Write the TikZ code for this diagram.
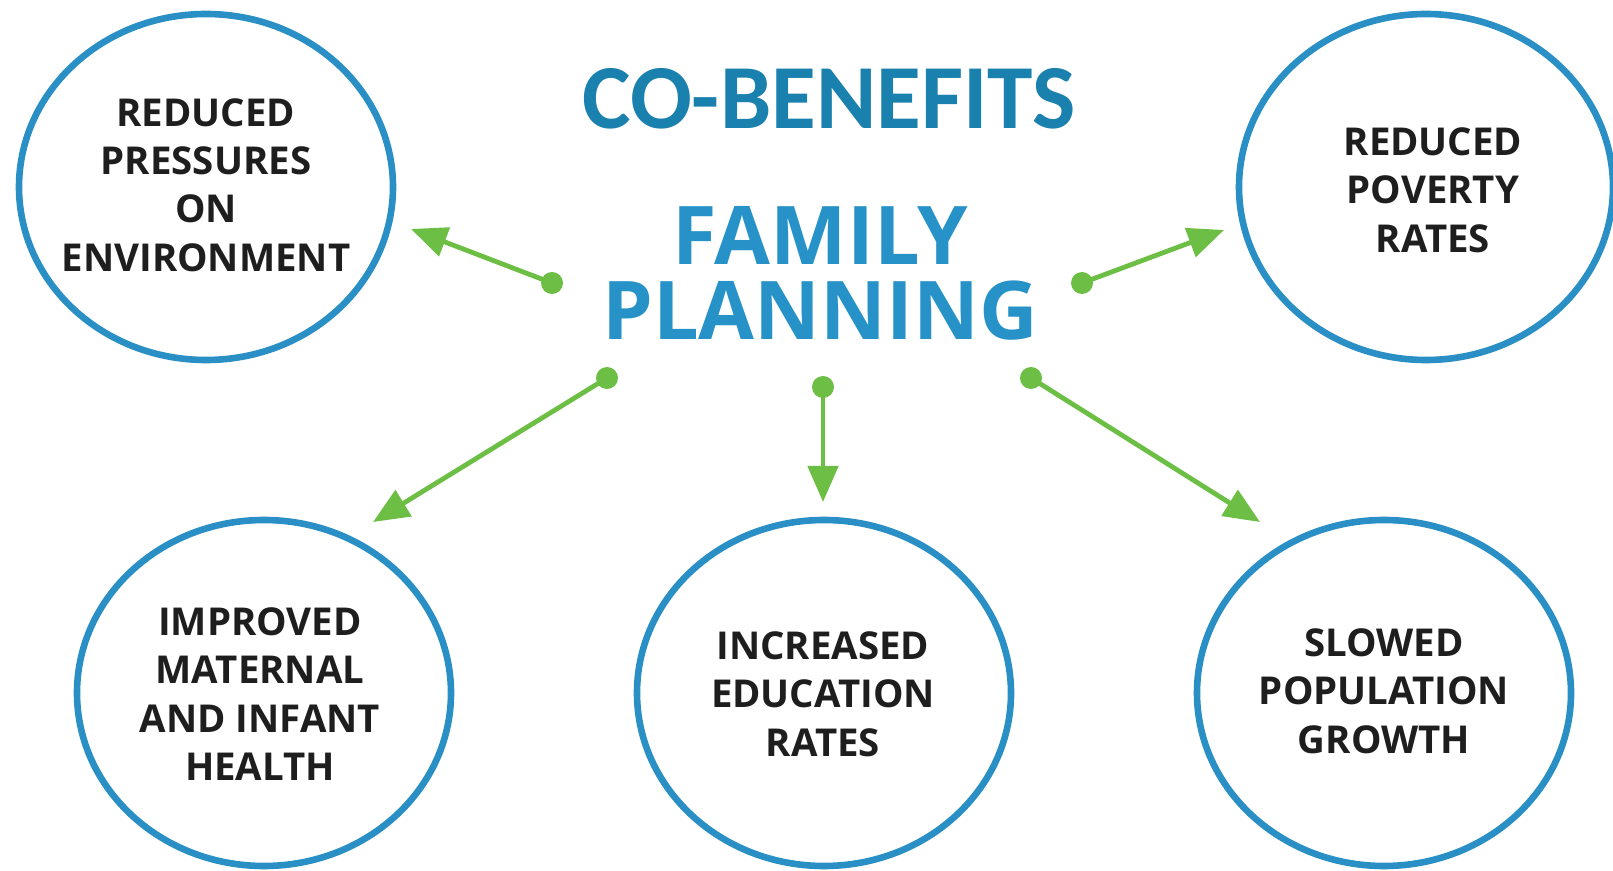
\documentclass[tikz,border=0pt]{standalone}
\usepackage{fontspec}
\newfontfamily\opensans{Open Sans}
\newfontfamily\carlito{Carlito}
\usepackage{tikz}
\usetikzlibrary{shapes.geometric, arrows.meta, positioning}

\definecolor{ringblue}{HTML}{2A8FC4}
\definecolor{headblue}{HTML}{1A80AD}
\definecolor{fpblue}{HTML}{2692C8}
\definecolor{linkgreen}{HTML}{6CBF44}
\definecolor{inkgray}{HTML}{1E1E1E}

\begin{document}
\begin{tikzpicture}[x=0.5pt, y=-0.5pt,
		ring/.style={ellipse, draw=ringblue, line width=3.3pt, minimum width=187pt, minimum height=173pt, inner sep=0pt},
		benefit/.style={align=center, text=inkgray, inner sep=0pt, font=\opensans\bfseries\fontsize{19.2}{24.2}\selectfont},
		link/.style={draw=linkgreen, line width=2.4pt, -{Triangle[length=18pt, width=15pt]}},
		dot/.style={fill=linkgreen}]
		\useasboundingbox (0,0) rectangle (1613,871);
		
		% titles
		\node[text=headblue, font=\carlito\bfseries\fontsize{45.8}{50}\selectfont, inner sep=0pt] (cob) at (829,99) {CO-BENEFITS};
		\node[text=fpblue, align=center, inner sep=0pt, font=\opensans\bfseries\fontsize{40.5}{37.5}\selectfont] (fp) at (820,273) {FAMILY\\PLANNING};
		
		% benefits
		\node[ring] (env) at (206,187) {};
		\node[ring] (pov) at (1426,187) {};
		\node[ring] (mat) at (264,693) {};
		\node[ring] (edu) at (824,693) {};
		\node[ring] (pop) at (1384,693) {};
		
		\node[benefit] (envt) at (206,185) {REDUCED\\PRESSURES\\ON\\ENVIRONMENT};
		\node[benefit] (povt) at (1433,190) {REDUCED\\POVERTY\\RATES};
		\node[benefit] (matt) at (260,694) {IMPROVED\\MATERNAL\\AND INFANT\\HEALTH};
		\node[benefit] (edut) at (823,694) {INCREASED\\EDUCATION\\RATES};
		\node[benefit] (popt) at (1384,691) {SLOWED\\POPULATION\\GROWTH};
		
		% arrows
		\coordinate (d1) at (552,283);  \coordinate (t1) at (411,229);
		\coordinate (d2) at (1082,283); \coordinate (t2) at (1224,230);
		\coordinate (d3) at (607,378);  \coordinate (t3) at (373,522);
		\coordinate (d4) at (823,387);  \coordinate (t4) at (823,502);
		\coordinate (d5) at (1031,378); \coordinate (t5) at (1260,522);
		
		\foreach \i in {1,...,5}{
			\fill[dot] (d\i) circle (5.5pt);
			\draw[link] (d\i) -- (t\i);
		}
	\end{tikzpicture}
\end{document}
